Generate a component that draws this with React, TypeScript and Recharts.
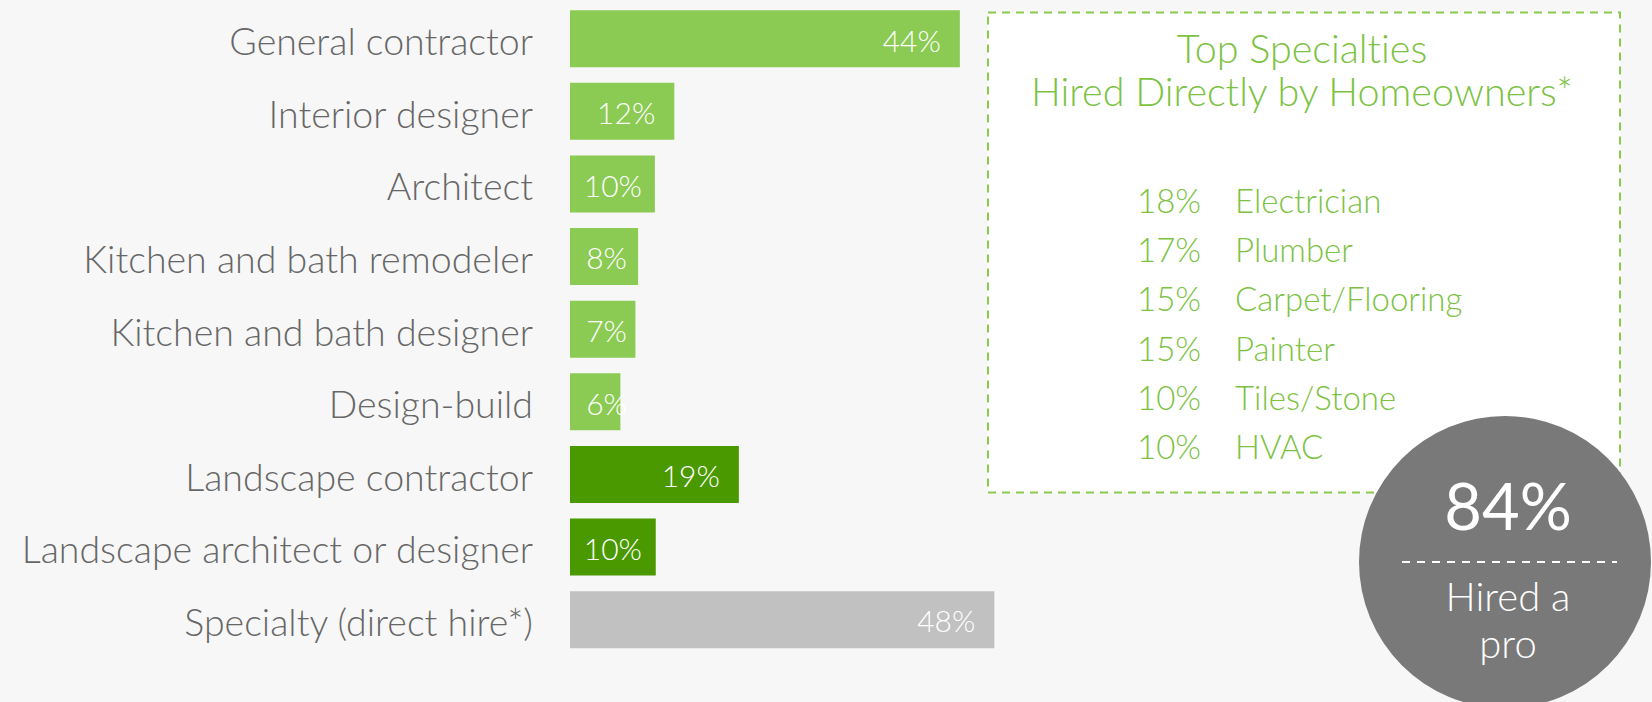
import React from "react";
import { BarChart, Bar, XAxis, YAxis, Cell, LabelList } from "recharts";

const categories = [
  "General contractor",
  "Interior designer",
  "Architect",
  "Kitchen and bath remodeler",
  "Kitchen and bath designer",
  "Design-build",
  "Landscape contractor",
  "Landscape architect or designer",
  "Specialty (direct hire*)",
];
const shares = [44.1, 11.8, 9.6, 7.7, 7.4, 5.7, 19.1, 9.7, 48.0];
const shareLabels = ["44%", "12%", "10%", "8%", "7%", "6%", "19%", "10%", "48%"];
const groups = ["pro", "pro", "pro", "pro", "pro", "pro", "landscape", "landscape", "specialty"];

const specialtyShares = ["18%", "17%", "15%", "15%", "10%", "10%"];
const specialtyNames = ["Electrician", "Plumber", "Carpet/Flooring", "Painter", "Tiles/Stone", "HVAC"];

const headline = "84%";
const headlineCaption = ["Hired a", "pro"];
const boxTitle = ["Top Specialties", "Hired Directly by Homeowners*"];

const groupColors: Record<string, string> = {
  pro: "#8bca53",
  landscape: "#4a9900",
  specialty: "#c1c1c1",
};

const FONT = "Lato, 'Open Sans', sans-serif";
const GREEN_TEXT = "#7cc243";
const NO_LIG = { fontVariantLigatures: "none" as const };

const data = categories.map((name, i) => ({
  name,
  value: shares[i],
  label: shareLabels[i],
  group: groups[i],
}));

const BarValueLabel = (props: any) => {
  const { x, y, width, height, index } = props;
  const text = shareLabels[index];
  const fs = 30;
  const estW = 15 * (text.length - 1) + 26;
  const endX = Math.max(x + width - 19, x + 16 + estW);
  return (
    <text
      x={endX}
      y={y + height / 2 + fs * 0.36 + 2}
      textAnchor="end"
      fill="#ffffff"
      fontSize={fs}
      fontFamily={FONT}
      fontWeight={300}
    >
      {text}
    </text>
  );
};

const CategoryTick = (props: any) => {
  const { x, y, payload } = props;
  const fs = 37.5;
  return (
    <text
      x={x}
      y={y + fs * 0.36 + 3}
      textAnchor="end"
      fill="#676767"
      fontSize={fs}
      fontFamily={FONT}
      fontWeight={300}
      style={NO_LIG}
    >
      {payload.value}
    </text>
  );
};

export default function App() {
  return (
    <div
      style={{
        position: "fixed",
        left: 0,
        top: 0,
        width: 1652,
        height: 702,
        background: "#f7f7f7",
        overflow: "hidden",
      }}
    >
      <div style={{ position: "absolute", left: 0, top: 0 }}>
        <BarChart
          width={1652}
          height={702}
          data={data}
          layout="vertical"
          margin={{ top: 2.2, bottom: 46.2, left: 0, right: 198 }}
        >
          <XAxis type="number" domain={[0, 100]} hide />
          <YAxis
            type="category"
            dataKey="name"
            width={570}
            tickLine={false}
            axisLine={false}
            tickSize={0}
            tickMargin={37}
            tick={<CategoryTick />}
            interval={0}
          />
          <Bar dataKey="value" barSize={57} isAnimationActive={false}>
            {data.map((d, i) => (
              <Cell key={i} fill={groupColors[d.group]} />
            ))}
            <LabelList dataKey="label" content={<BarValueLabel />} />
          </Bar>
        </BarChart>
      </div>
      <svg
        width={1652}
        height={702}
        style={{ position: "absolute", left: 0, top: 0, pointerEvents: "none" }}
      >
        <rect
          x={988}
          y={12.5}
          width={632}
          height={480}
          fill="#ffffff"
          stroke="#8cc952"
          strokeWidth={2}
          strokeDasharray="8 6"
        />
        {boxTitle.map((t, i) => (
          <text
            key={t}
            x={1302}
            y={63 + i * 43}
            textAnchor="middle"
            fill={GREEN_TEXT}
            fontSize={39.5}
            fontFamily={FONT}
            fontWeight={300}
            style={NO_LIG}
          >
            {t}
          </text>
        ))}
        {specialtyNames.map((n, i) => (
          <g key={n}>
            <text
              x={1137}
              y={213 + i * 49.2}
              fill={GREEN_TEXT}
              fontSize={33}
              fontFamily={FONT}
              fontWeight={300}
            >
              {specialtyShares[i]}
            </text>
            <text
              x={1235}
              y={213 + i * 49.2}
              fill={GREEN_TEXT}
              fontSize={33}
              fontFamily={FONT}
              fontWeight={300}
              style={NO_LIG}
            >
              {n}
            </text>
          </g>
        ))}
        <circle cx={1505} cy={562} r={146} fill="#797979" />
        <text
          x={1508}
          y={530}
          textAnchor="middle"
          fill="#ffffff"
          fontSize={65}
          fontFamily={FONT}
          fontWeight={400}
        >
          {headline}
        </text>
        <line
          x1={1402}
          y1={562}
          x2={1617}
          y2={562}
          stroke="#ffffff"
          strokeWidth={2}
          strokeDasharray="8 7"
        />
        {headlineCaption.map((t, i) => (
          <text
            key={t}
            x={1508}
            y={611 + i * 47}
            textAnchor="middle"
            fill="#ffffff"
            fontSize={40}
            fontFamily={FONT}
            fontWeight={300}
          >
            {t}
          </text>
        ))}
      </svg>
    </div>
  );
}
